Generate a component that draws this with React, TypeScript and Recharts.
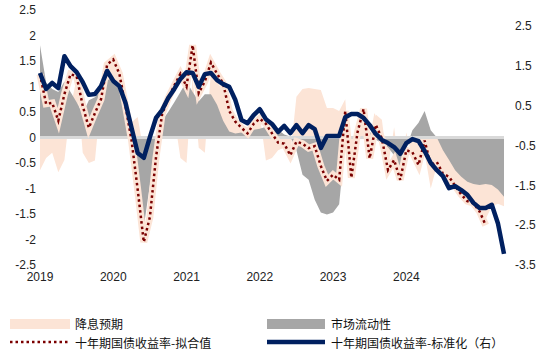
import { ComposedChart, Area, Line, XAxis, YAxis, ReferenceLine } from "recharts";

// monthly points, Jan 2019 .. May 2025
const START_YEAR = 2019;
const yearTicks = [0, 12, 24, 36, 48, 60];
const yearLabels = ["2019", "2020", "2021", "2022", "2023", "2024"];
const leftTicks = [-2.5, -2, -1.5, -1, -0.5, 0, 0.5, 1, 1.5, 2, 2.5];
const rightTicks = [-3.5, -2.5, -1.5, -0.5, 0.5, 1.5, 2.5];

// 降息预期 (left)
const rateCut = [
  -0.64, -0.4, -0.3, -0.68, -0.44, 0.6, 1.15, -0.3, -0.5, -0.45,
  0.8, 1.4, 1.55, 1.2, 0.6, 0.3, 0.4, -0.3, -0.2, -0.1,
  0.2, 0.3, 0.4, -0.4, -0.5, 1.2, -0.2, -0.3, 1.3, 1.1,
  0.9, 0.7, 0.35, 0.25, 0.2, 0.3, 0.45, -0.45, -0.4, -0.25,
  -0.2, -0.35, 0.8, 0.95, 0.97, 0.95, 0.93, 0.58, 0.58, 0.52,
  0.75, -0.8, 0.2, 0.55, -0.4, 0.45, 0.35, -0.6, 0.2, -0.7,
  0.1, -0.4, -0.55, -0.3, -1.0, -0.55, -0.8, -0.9, -1.0, -1.15,
  -1.3, -1.35, -1.5, -1.6, -1.35, -1.3, -1.35,
];

// 市场流动性 (left)
const liquidity = [
  1.81, 1.08, 0.95, 0.89, 1.1, 0.89, 0.69, 0.46, 0.73, 0.79,
  0.91, 1.12, 1.18, 0.95, 0.85, 0.04, -1.22, -1.75, -0.93, -0.17,
  0.33, 0.5, 0.69, 0.89, 1.1, 0.89, 0.71, 0.85, 0.85, 0.64,
  0.33, 0.12, 0.08, 0.1, 0.12, 0.15, 0.17, 0.21, 0.23, 0.15,
  0.06, 0.02, -0.25, -0.73, -0.83, -1.22, -1.47, -1.51, -1.47, -1.31,
  -0.06, 0.0, -0.02, 0.0, 0.12, -0.04, -0.12, -0.19, -0.35, -0.6,
  -0.21, 0.14, 0.29, 0.52, 0.14, 0.0, -0.25, -0.44, -0.64, -0.77,
  -0.87, -0.91, -0.93, -0.91, -0.93, -1.02, -1.16,
];

// 十年期国债收益率-拟合值 (left)
const fitted = [
  1.24, 0.66, 0.68, 0.33, 0.85, 1.24, 1.2, 0.62, 0.19, 0.48,
  0.75, 1.43, 1.53, 1.25, 0.62, -0.06, -1.02, -2.05, -1.56, -0.39,
  0.46, 0.77, 1.02, 1.25, 1.0, 1.81, 0.87, 1.1, 1.47, 1.25,
  1.06, 0.52, 0.31, 0.19, 0.08, 0.27, 0.37, 0.27, 0.08, -0.1,
  -0.12, -0.35, -0.08, -0.12, -0.21, -0.17, -0.56, -0.85, -0.73, -0.83,
  0.52, -0.79, 0.1, 0.56, -0.41, 0.25, -0.02, -0.64, -0.44, -0.83,
  -0.25, -0.29, -0.54, -0.06, -0.54, -0.48, -0.71, -0.77, -0.95, -1.12,
  -1.25, -1.29, -1.45, -1.72, null, null, null,
];

// 十年期国债收益率-标准化（右）
const yieldStd = [
  1.32, 0.92, 1.07, 0.94, 1.74, 1.49, 1.34, 1.09, 0.77, 0.79,
  0.99, 1.37, 1.12, 0.99, 0.57, -0.06, -0.69, -0.81, -0.29, 0.19,
  0.39, 0.69, 0.92, 1.17, 1.34, 1.32, 0.97, 1.29, 1.32, 1.14,
  1.04, 0.97, 0.64, 0.14, 0.06, 0.26, 0.41, 0.16, 0.04, -0.16,
  -0.01, -0.19, 0.01, -0.19, 0.01, -0.09, -0.56, -0.26, -0.26, -0.26,
  0.21, 0.29, 0.29, 0.19, 0.01, -0.21, -0.36, -0.44, -0.54, -0.71,
  -0.44, -0.34, -0.39, -0.64, -0.94, -1.12, -1.27, -1.57, -1.52, -1.62,
  -1.74, -1.94, -2.07, -2.07, -1.99, -2.45, -3.22,
];

const months = yieldStd.map((_, i) => {
  const y = START_YEAR + Math.floor(i / 12);
  const m = (i % 12) + 1;
  return `${y}-${m < 10 ? "0" + m : m}`;
});

const data = months.map((month, i) => ({
  idx: i,
  month,
  rateCut: rateCut[i],
  liquidity: liquidity[i],
  fitted: fitted[i],
  yieldStd: yieldStd[i],
}));

const axisFont = { fill: "#222", fontSize: 12, fontFamily: "'Liberation Sans', Arial, sans-serif" };

if (typeof document !== "undefined") document.body.style.margin = "0";

export default function App() {
  return (
    <div style={{ position: "relative", width: 550, height: 353, background: "#fff" }}>
      <ComposedChart width={550} height={353} data={data} margin={{ top: 10, right: 0, left: 0, bottom: 68 }}>
        <XAxis
          dataKey="idx" type="number" domain={[0, 76]} ticks={yearTicks}
          tickFormatter={(v: number) => yearLabels[yearTicks.indexOf(v)] ?? ""}
          axisLine={false} tickLine={false} tickSize={0} tickMargin={7} height={20}
          tick={axisFont} interval={0}
        />
        <YAxis
          yAxisId="left" domain={[-2.5, 2.5]} ticks={leftTicks} width={40}
          axisLine={false} tickLine={false} tickSize={0} tickMargin={4}
          tick={axisFont} interval={0}
        />
        <YAxis
          yAxisId="right" orientation="right" domain={[-3.5, 2.9]} ticks={rightTicks} width={46}
          axisLine={false} tickLine={false} tickSize={0} tickMargin={11}
          tick={{ ...axisFont, textAnchor: "start" }} interval={0}
        />
        <Area yAxisId="left" type="linear" dataKey="rateCut" name="降息预期"
          fill="#fce4d6" fillOpacity={1} stroke="none" isAnimationActive={false} />
        <Area yAxisId="left" type="linear" dataKey="liquidity" name="市场流动性"
          fill="#a6a6a6" fillOpacity={1} stroke="none" isAnimationActive={false} />
        <ReferenceLine yAxisId="left" y={0} stroke="#d9d9d9" strokeWidth={3} />
        <Line yAxisId="left" type="linear" dataKey="fitted" stroke="#fce4d6" strokeWidth={7}
          dot={false} legendType="none" isAnimationActive={false} />
        <Line yAxisId="left" type="linear" dataKey="fitted" name="十年期国债收益率-拟合值"
          stroke="#7b0000" strokeWidth={2.5} strokeDasharray="2.5 3" dot={false} isAnimationActive={false} />
        <Line yAxisId="right" type="linear" dataKey="yieldStd" name="十年期国债收益率-标准化（右）"
          stroke="#002060" strokeWidth={4.5} strokeLinejoin="round" dot={false} isAnimationActive={false} />
      </ComposedChart>

      <div style={{ position: "absolute", left: 0, top: 0, width: 550, height: 353, pointerEvents: "none",
        fontFamily: "'Noto Sans CJK SC', sans-serif", fontSize: 12, lineHeight: "15px", color: "#111" }}>
        <div style={{ position: "absolute", left: 10, top: 319, width: 60, height: 10, background: "#fce4d6" }} />
        <div style={{ position: "absolute", left: 75, top: 316 }}>降息预期</div>
        <div style={{ position: "absolute", left: 267, top: 319, width: 58, height: 10, background: "#a6a6a6" }} />
        <div style={{ position: "absolute", left: 331, top: 316 }}>市场流动性</div>
        <svg style={{ position: "absolute", left: 10, top: 339 }} width={62} height={6}>
          <line x1={0} y1={3} x2={60} y2={3} stroke="#7b0000" strokeWidth={2.5} strokeDasharray="2.5 3" />
        </svg>
        <div style={{ position: "absolute", left: 75, top: 334.5 }}>十年期国债收益率-拟合值</div>
        <svg style={{ position: "absolute", left: 267, top: 339 }} width={60} height={6}>
          <line x1={0} y1={3} x2={58} y2={3} stroke="#002060" strokeWidth={4.5} />
        </svg>
        <div style={{ position: "absolute", left: 331, top: 334.5 }}>十年期国债收益率-标准化（右）</div>
      </div>
    </div>
  );
}
